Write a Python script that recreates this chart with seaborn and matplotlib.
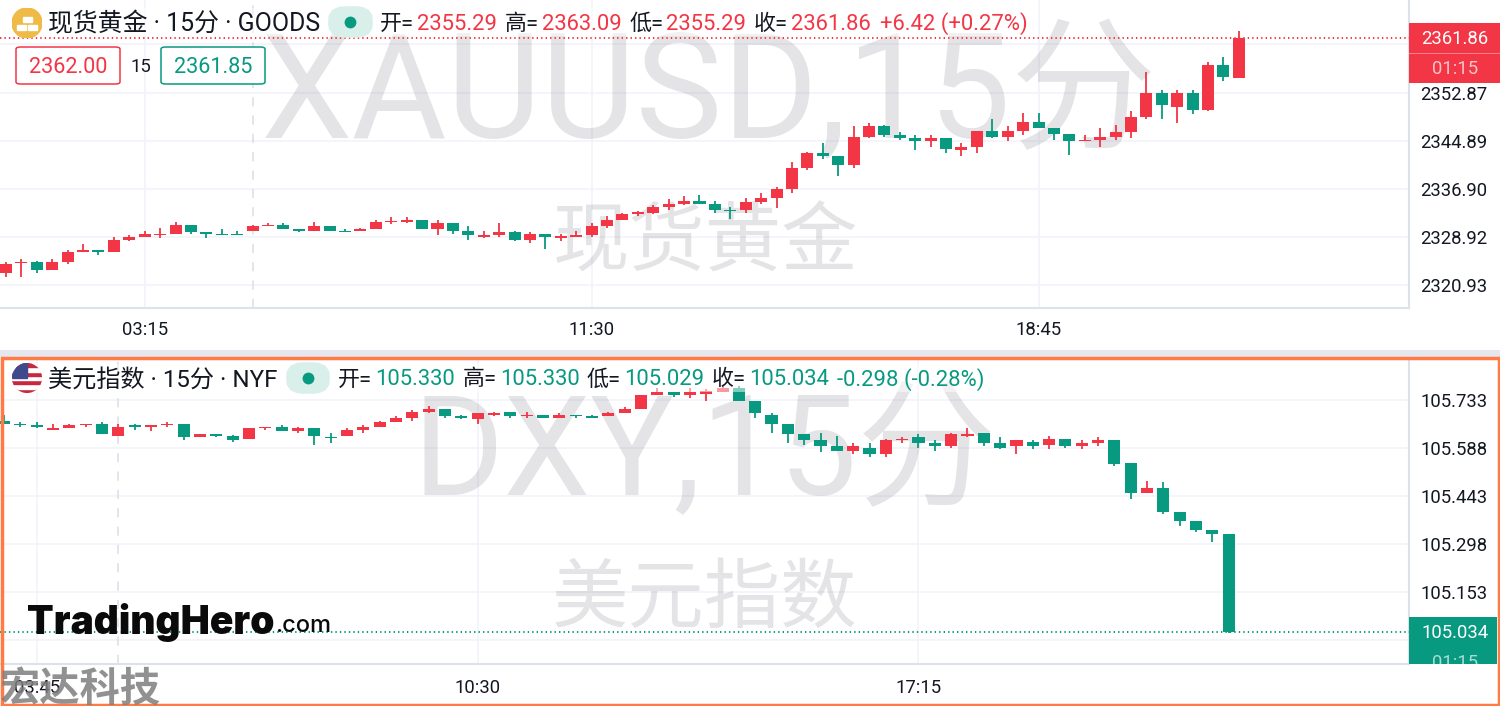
import numpy as np
import pandas as pd
import seaborn as sns
import matplotlib.pyplot as plt
from matplotlib.patches import Rectangle, Circle, FancyBboxPatch

# gold, 15 min
xau_open = [2322.99,2324.54,2324.82,2323.49,2324.82,2326.48,2326.81,2326.48,2328.48,2328.98,
            2329.31,2329.47,2330.97,2329.81,2329.47,2329.47,2329.97,2330.81,2330.97,2330.31,
            2329.97,2330.81,2329.97,2329.97,2330.31,2331.47,2331.47,2331.80,2330.31,2331.30,
            2329.97,2328.98,2329.31,2329.81,2328.48,2329.47,2328.81,2328.98,2329.31,2330.81,
            2331.80,2332.80,2332.97,2333.97,2334.47,2334.96,2334.47,2333.47,2333.47,2334.80,
            2335.46,2336.96,2340.29,2342.78,2342.28,2340.79,2345.44,2347.27,2345.78,2345.28,
            2344.78,2345.28,2343.28,2343.78,2346.44,2345.44,2346.44,2347.94,2346.94,2345.94,
            2344.78,2344.95,2345.44,2346.28,2348.77,2352.76,2350.43,2352.76,2349.94,2357.42,2355.29]
xau_high = [2324.82,2325.32,2324.98,2325.32,2326.81,2327.81,2326.81,2328.98,2329.31,2329.97,
            2330.47,2331.47,2330.97,2329.81,2330.31,2329.97,2330.97,2331.30,2331.30,2330.31,
            2331.47,2330.81,2330.31,2330.47,2331.80,2332.30,2332.30,2331.80,2331.80,2331.30,
            2330.81,2329.97,2331.30,2329.97,2329.81,2329.47,2329.47,2329.97,2331.30,2332.47,
            2332.97,2333.30,2334.30,2335.30,2335.80,2335.96,2334.96,2333.97,2335.46,2336.29,
            2337.29,2341.29,2342.95,2344.45,2342.28,2347.27,2347.77,2347.44,2346.28,2345.78,
            2345.78,2345.28,2344.45,2346.44,2348.44,2347.27,2349.44,2349.44,2346.94,2345.94,
            2345.78,2346.94,2347.44,2349.77,2356.26,2353.26,2353.26,2353.26,2357.92,2358.75,2363.09]
xau_low = [2322.32,2322.32,2322.99,2323.49,2324.48,2326.37,2325.98,2326.48,2328.31,2328.92,
           2328.81,2329.47,2329.47,2328.81,2329.31,2329.31,2329.97,2330.81,2330.31,2329.81,
           2329.97,2329.97,2329.81,2329.97,2330.31,2331.14,2331.30,2330.31,2329.31,2329.47,
           2328.48,2328.81,2328.98,2328.31,2327.98,2326.98,2328.31,2328.98,2328.98,2330.47,
           2331.80,2332.47,2332.80,2333.47,2334.30,2334.47,2332.97,2331.97,2332.97,2334.47,
           2333.80,2336.29,2339.95,2341.78,2338.96,2340.29,2345.28,2345.44,2344.95,2343.28,
           2343.78,2342.78,2342.28,2342.78,2345.28,2344.78,2345.78,2346.94,2344.95,2342.45,
           2344.78,2343.78,2344.95,2345.28,2348.44,2348.44,2347.77,2349.27,2349.77,2354.76,2355.29]
xau_close = [2324.48,2324.82,2323.49,2324.82,2326.48,2326.81,2326.48,2328.48,2328.98,2329.47,
             2329.47,2330.97,2329.81,2329.47,2329.31,2329.31,2330.81,2330.97,2330.31,2329.97,
             2330.81,2329.97,2329.81,2330.31,2331.47,2331.64,2331.80,2330.31,2331.30,2329.97,
             2329.31,2329.31,2329.81,2328.48,2329.47,2328.98,2329.14,2329.31,2330.81,2331.80,
             2332.80,2333.13,2333.97,2334.47,2334.96,2334.47,2333.47,2333.30,2334.80,2335.46,
             2336.96,2340.29,2342.78,2342.28,2340.79,2345.44,2347.27,2345.78,2345.28,2344.78,
             2345.28,2343.45,2343.78,2346.44,2345.44,2346.44,2347.94,2346.94,2345.94,2344.78,
             2344.95,2345.44,2346.28,2348.77,2352.76,2350.77,2352.76,2349.94,2357.42,2355.43,2361.86]

# dollar index, 15 min
dxy_open = [105.671,105.661,105.659,105.643,105.649,105.659,105.661,105.625,105.659,105.652,
            105.659,105.661,105.622,105.631,105.625,105.616,105.649,105.652,105.640,105.649,
            105.622,105.625,105.643,105.652,105.668,105.680,105.698,105.707,105.686,105.677,
            105.689,105.698,105.686,105.689,105.680,105.689,105.686,105.686,105.695,105.707,
            105.749,105.758,105.749,105.752,105.758,105.770,105.732,105.689,105.661,105.631,
            105.613,105.595,105.580,105.589,105.571,105.613,105.622,105.604,105.595,105.625,
            105.634,105.604,105.595,105.607,105.598,105.616,105.595,105.604,105.613,105.544,
            105.453,105.468,105.396,105.369,105.341,105.330]
dxy_high = [105.689,105.668,105.668,105.661,105.661,105.661,105.668,105.661,105.661,105.659,
            105.668,105.661,105.631,105.631,105.628,105.649,105.652,105.659,105.652,105.649,
            105.634,105.649,105.659,105.671,105.686,105.704,105.716,105.707,105.689,105.695,
            105.698,105.698,105.698,105.689,105.695,105.689,105.689,105.698,105.713,105.749,
            105.770,105.758,105.770,105.767,105.776,105.776,105.732,105.695,105.661,105.631,
            105.634,105.625,105.604,105.604,105.616,105.622,105.631,105.613,105.634,105.649,
            105.634,105.622,105.613,105.613,105.625,105.616,105.613,105.622,105.613,105.544,
            105.489,105.486,105.396,105.369,105.341,105.330]
dxy_low = [105.661,105.652,105.649,105.643,105.649,105.652,105.631,105.625,105.643,105.640,
           105.652,105.613,105.622,105.622,105.607,105.616,105.643,105.640,105.634,105.598,
           105.604,105.625,105.634,105.652,105.668,105.671,105.695,105.680,105.677,105.661,
           105.686,105.680,105.680,105.680,105.680,105.680,105.680,105.686,105.695,105.707,
           105.749,105.743,105.740,105.732,105.758,105.731,105.680,105.634,105.604,105.598,
           105.577,105.580,105.571,105.562,105.562,105.604,105.589,105.580,105.589,105.622,
           105.595,105.586,105.571,105.586,105.586,105.589,105.586,105.595,105.535,105.435,
           105.453,105.390,105.353,105.335,105.305,105.029]
dxy_close = [105.661,105.659,105.652,105.649,105.659,105.661,105.631,105.652,105.652,105.659,
             105.661,105.622,105.631,105.625,105.613,105.649,105.652,105.640,105.649,105.625,
             105.619,105.643,105.652,105.668,105.680,105.698,105.707,105.686,105.680,105.695,
             105.695,105.686,105.689,105.680,105.689,105.686,105.680,105.695,105.707,105.749,
             105.758,105.749,105.758,105.761,105.770,105.732,105.695,105.661,105.631,105.613,
             105.595,105.580,105.595,105.571,105.613,105.616,105.604,105.595,105.631,105.631,
             105.604,105.589,105.613,105.595,105.616,105.595,105.604,105.613,105.541,105.453,
             105.468,105.396,105.369,105.341,105.330,105.034]

xau_ticks = [2360.85, 2352.87, 2344.89, 2336.90, 2328.92, 2320.93]
xau_tick_labels = ['', '2352.87', '2344.89', '2336.90', '2328.92', '2320.93']
dxy_ticks = [105.733, 105.588, 105.443, 105.298, 105.153, 105.008]
dxy_tick_labels = ['105.733', '105.588', '105.443', '105.298', '105.153', '']
xau_times = ['03:15', '11:30', '18:45']
dxy_times = ['03:45', '10:30', '17:15']

RED = '#F23645'
GREEN = '#089981'
INK = '#131722'
GRID = '#F0F3FA'
MARK = '#787B86'

sns.set_theme(style='white')
plt.rcParams['font.family'] = ['Roboto', 'Noto Sans CJK SC', 'DejaVu Sans']

W, H = 1500, 706
fig = plt.figure(figsize=(W / 100, H / 100), dpi=100, facecolor='white')


def fx(px):
    return px / W


def fy(py):
    return 1 - py / H


def label(px, py, s, size=13.3, color=INK, ha='left', **kw):
    return fig.text(fx(px), fy(py), s, fontsize=size, color=color, ha=ha, va='center', **kw)


def fig_rect(x0, y0, x1, y1, **kw):
    r = Rectangle((fx(x0), fy(y1)), (x1 - x0) / W, (y1 - y0) / H, transform=fig.transFigure, **kw)
    fig.add_artist(r)
    return r


def candles(ax, o, h, l, c, width):
    df = pd.DataFrame({'i': np.arange(len(o)), 'o': o, 'h': h, 'l': l, 'c': c})
    df['up'] = df['c'] >= df['o']
    df['bottom'] = df[['o', 'c']].min(axis=1)
    df['body'] = (df['c'] - df['o']).abs()
    for up, col in [(True, RED), (False, GREEN)]:
        sub = df[df['up'] == up]
        ax.vlines(sub['i'], sub['l'], sub['h'], colors=col, lw=1.3, zorder=2)
        sns.barplot(data=sub, x='i', y='body', bottom=sub['bottom'].values, native_scale=True,
                    color=col, saturation=1, width=width, linewidth=0, errorbar=None, ax=ax, zorder=3)


def setup(ax, ticks, labels, times, time_idx, dash_idx, xlim, ylim, xpad):
    ax.set_xlim(*xlim)
    ax.set_ylim(*ylim)
    ax.set_xlabel('')
    ax.set_ylabel('')
    ax.yaxis.tick_right()
    ax.set_yticks(ticks)
    ax.set_yticklabels(labels, fontsize=13.3, color=INK)
    ax.set_xticks(time_idx)
    ax.set_xticklabels(times, fontsize=13.3, color=INK)
    ax.tick_params(axis='both', length=0)
    ax.tick_params(axis='y', pad=8)
    ax.tick_params(axis='x', pad=xpad)
    ax.grid(True, color=GRID, lw=1.1, zorder=0)
    ax.set_axisbelow(True)
    ax.axvline(dash_idx, color='#DCDDE5', lw=1.1, ls=(0, (6, 6)), zorder=1)
    for s in ['top', 'left']:
        ax.spines[s].set_visible(False)
    for s in ['bottom', 'right']:
        ax.spines[s].set_color('#DDE1EC')
        ax.spines[s].set_linewidth(1.5)


ax_xau = fig.add_axes([0, fy(308), 1409 / W, 308 / H])
ax_dxy = fig.add_axes([0, fy(664), 1409 / W, (664 - 358) / H])

candles(ax_xau, xau_open, xau_high, xau_low, xau_close, 0.78)
candles(ax_dxy, dxy_open, dxy_high, dxy_low, dxy_close, 0.74)
setup(ax_xau, xau_ticks, xau_tick_labels, xau_times, [9, 38, 67], 16, (-0.39, 91.04), (2317.14, 2368.23), 9.5)
setup(ax_dxy, dxy_ticks, dxy_tick_labels, dxy_times, [2, 29, 56], 7, (-0.25, 86.04), (104.936, 105.861), 10.5)

ax_xau.axhline(xau_close[-1], color=RED, lw=1.4, ls=(0, (0.7, 1.6)), zorder=4)
ax_dxy.axhline(dxy_close[-1], color=GREEN, lw=1.4, ls=(0, (0.7, 1.6)), zorder=4)

# big pale watermarks sit under the candles
for ax, px, py, s, size, ha in [(ax_xau, 261, 138, 'XAUUSD,15分', 105, 'left'),
                                (ax_xau, 705, 266, '现货黄金', 55, 'center'),
                                (ax_dxy, 413, 494, 'DXY,15分', 100, 'left'),
                                (ax_dxy, 705, 622, '美元指数', 55, 'center')]:
    ax.text(fx(px), fy(py), s, transform=fig.transFigure, fontsize=size, color=MARK, alpha=0.2,
            ha=ha, va='baseline', zorder=1, clip_on=False)

# translucent backing behind the header rows
fig_rect(0, 8, 1035, 36, facecolor='white', alpha=0.5, linewidth=0)
fig_rect(3, 364, 990, 392, facecolor='white', alpha=0.5, linewidth=0)

# header, gold
label(48, 24, '现货黄金 · 15分 · GOODS', size=17.9)
pill = FancyBboxPatch((fx(338), fy(28)), 25 / W, 12 / H, boxstyle='round,pad=0,rounding_size=0.005',
                      transform=fig.transFigure, fc='#D8EFEA', ec='#D8EFEA', lw=14)
fig.add_artist(pill)
fig.add_artist(plt.Line2D([fx(350)], [fy(22)], marker='o', ms=8.5, color=GREEN, mew=0))
for px, s in [(380, '开='), (505, '高='), (630, '低='), (754, '收=')]:
    label(px, 24, s, size=15.8)
for px, s in [(417, '2355.29'), (542, '2363.09'), (666, '2355.29'), (791, '2361.86'), (880, '+6.42 (+0.27%)')]:
    label(px, 24, s, size=15.8, color=RED)

# header, dollar
label(48, 380, '美元指数 · 15分 · NYF', size=17.4)
pill2 = FancyBboxPatch((fx(296), fy(384)), 24 / W, 12 / H, boxstyle='round,pad=0,rounding_size=0.005',
                       transform=fig.transFigure, fc='#D8EFEA', ec='#D8EFEA', lw=14)
fig.add_artist(pill2)
fig.add_artist(plt.Line2D([fx(308)], [fy(378)], marker='o', ms=8.5, color=GREEN, mew=0))
for px, s in [(338, '开='), (463, '高='), (587, '低='), (712, '收=')]:
    label(px, 380, s, size=15.8)
for px, s in [(375, '105.330'), (500, '105.330'), (624, '105.029'), (749, '105.034'), (837, '-0.298 (-0.28%)')]:
    label(px, 380, s, size=15.8, color=GREEN)

# buy / sell boxes
for x0, s, col in [(16, '2362.00', RED), (161, '2361.85', GREEN)]:
    box = FancyBboxPatch((fx(x0), fy(84)), 104 / W, 37 / H, boxstyle='round,pad=0,rounding_size=0.003',
                         transform=fig.transFigure, fc='white', ec=col, lw=1.1)
    fig.add_artist(box)
    label(x0 + 52, 67.5, s, size=15.6, color=col, ha='center')
label(141, 67.5, '15', size=13.3, ha='center')

# last price tags on the price axis
fig_rect(1409, 23, 1500, 83, facecolor=RED, linewidth=0)
fig_rect(1409, 53, 1500, 53.7, facecolor='#F8808A', linewidth=0)
label(1455, 39.5, '2361.86', color='white', ha='center')
label(1455, 69.5, '01:15', color='#FBC4C9', ha='center')
tag = fig_rect(1409, 617, 1497, 664, facecolor=GREEN, linewidth=0)
label(1455, 633.5, '105.034', color='white', ha='center')
clipped = label(1455, 663, '01:15', color='#A8DCD2', ha='center')
clipped.set_clip_path(tag)
clipped.set_clip_on(True)

# coin icon
icon = fig.add_axes([fx(12), fy(38), 30 / W, 30 / H])
icon.set_zorder(5)
icon.set_xlim(-1, 1)
icon.set_ylim(-1, 1)
icon.axis('off')
icon.add_patch(Circle((0, 0), 1, color='#EFBA45'))
for cx, cy in [(-0.36, -0.28), (0.36, -0.28), (0, 0.22)]:
    icon.add_patch(Rectangle((cx - 0.3, cy - 0.16), 0.6, 0.32, color='white'))

# flag icon
flag = fig.add_axes([fx(12), fy(393), 30 / W, 30 / H])
flag.set_zorder(5)
flag.set_xlim(-1, 1)
flag.set_ylim(-1, 1)
flag.axis('off')
disc = Circle((0, 0), 1, transform=flag.transData)
for n, y0 in enumerate(np.linspace(-1, 1, 8)[:-1]):
    bar = flag.add_patch(Rectangle((-1, y0), 2, 2 / 7, color=('#C8283E' if n % 2 == 0 else 'white')))
    bar.set_clip_path(disc)
canton = flag.add_patch(Rectangle((-1, 0), 1, 1, color='#3F4A8C'))
canton.set_clip_path(disc)

# branding
label(27, 622, 'TradingHero', size=28, color='#0A0A0A', family='Inter', weight='black')
label(275, 626, '.com', size=17, color='#0A0A0A', family='Inter', weight='medium')
label(0, 689, '宏达科技', size=29, color='#7E7E7E', alpha=0.85, family='Noto Sans CJK SC', weight='bold')

# outer highlight of the active pane
fig_rect(0, 350, W, 357, facecolor='#E4E7EE', linewidth=0)
fig.add_artist(Rectangle((fx(1.5), fy(704.5)), 1497 / W, 347 / H, transform=fig.transFigure,
                         fill=False, ec='#FF7A45', lw=2.5))

fig.savefig('out.png', dpi=100)
